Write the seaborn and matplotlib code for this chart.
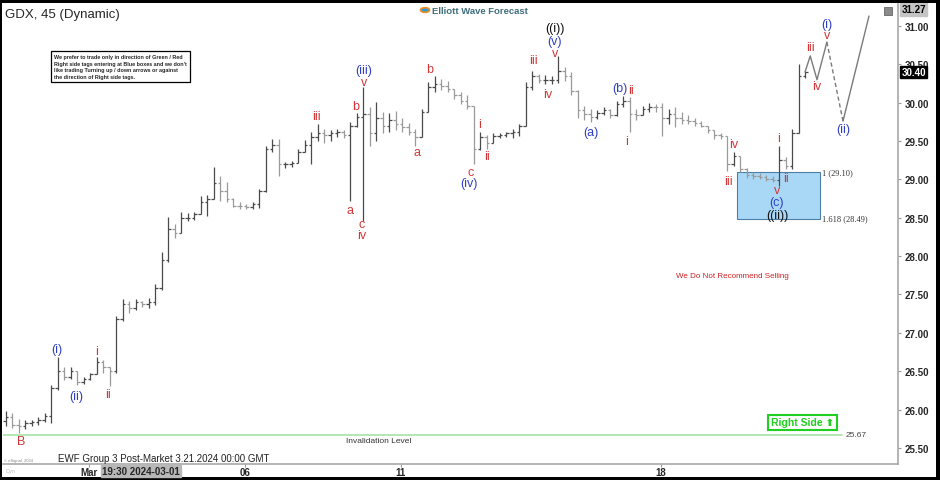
import matplotlib
matplotlib.use("Agg")
import matplotlib.pyplot as plt
from matplotlib.patches import Rectangle
import numpy as np
import seaborn as sns

# GDX 45-minute bars (8 bars per trading day, first bar late on 28 Feb)
highs = [25.98, 25.95, 25.88, 25.86, 25.86, 25.90, 25.95, 26.32, 26.68, 26.55,
         26.56, 26.50, 26.42, 26.48, 26.68, 26.64, 26.56, 27.22, 27.44, 27.42,
         27.44, 27.42, 27.46, 27.64, 28.05, 28.51, 28.42, 28.57, 28.56, 28.58,
         28.78, 28.80, 29.16, 29.05, 28.97, 28.76, 28.70, 28.68, 28.70, 28.88,
         29.44, 29.53, 29.53, 29.23, 29.24, 29.40, 29.52, 29.62, 29.72, 29.66,
         29.64, 29.66, 29.64, 29.75, 29.86, 30.20, 29.95, 30.01, 29.88, 29.86,
         29.89, 29.80, 29.74, 29.66, 29.92, 30.27, 30.35, 30.31, 30.28, 30.18,
         30.14, 30.10, 29.96, 29.62, 29.58, 29.60, 29.60, 29.62, 29.66, 29.72,
         30.27, 30.41, 30.38, 30.36, 30.35, 30.61, 30.46, 30.40, 30.16, 29.96,
         29.92, 29.90, 29.94, 29.92, 30.02, 30.09, 30.07, 29.92, 29.96, 30.00,
         29.98, 30.00, 29.92, 29.95, 29.88, 29.84, 29.80, 29.76, 29.70, 29.62,
         29.60, 29.57, 29.36, 29.30, 29.15, 29.10, 29.08, 29.06, 29.04, 29.44,
         29.29, 29.66, 30.50, 30.42]
lows = [25.78, 25.76, 25.70, 25.74, 25.78, 25.80, 25.84, 25.82, 26.26, 26.38,
        26.40, 26.32, 26.33, 26.38, 26.46, 26.48, 26.31, 26.48, 27.15, 27.26,
        27.30, 27.34, 27.32, 27.36, 27.56, 27.92, 28.24, 28.30, 28.46, 28.47,
        28.55, 28.52, 28.74, 28.72, 28.70, 28.64, 28.61, 28.62, 28.61, 28.63,
        28.84, 29.36, 29.04, 29.15, 29.16, 29.22, 29.36, 29.20, 29.50, 29.48,
        29.50, 29.55, 29.54, 28.72, 29.68, 28.46, 29.44, 29.50, 29.60, 29.62,
        29.64, 29.62, 29.58, 29.44, 29.55, 29.88, 30.14, 30.16, 30.14, 30.05,
        29.98, 29.92, 29.20, 29.38, 29.40, 29.47, 29.54, 29.55, 29.54, 29.56,
        29.70, 30.16, 30.26, 30.24, 30.24, 30.26, 30.28, 30.10, 29.80, 29.78,
        29.75, 29.79, 29.84, 29.80, 29.83, 29.95, 29.62, 29.78, 29.84, 29.88,
        29.88, 29.57, 29.72, 29.68, 29.72, 29.72, 29.70, 29.68, 29.60, 29.53,
        29.53, 29.11, 29.17, 29.10, 29.02, 29.00, 29.00, 28.98, 28.96, 28.91,
        29.14, 29.14, 29.60, 30.32]
closes = [25.90, 25.80, 25.78, 25.82, 25.84, 25.86, 25.92, 26.28, 26.50, 26.42,
          26.50, 26.36, 26.40, 26.46, 26.62, 26.55, 26.50, 27.18, 27.38, 27.32,
          27.40, 27.38, 27.40, 27.58, 27.95, 28.35, 28.30, 28.50, 28.50, 28.55,
          28.70, 28.74, 28.95, 28.85, 28.75, 28.66, 28.65, 28.64, 28.68, 28.85,
          29.40, 29.45, 29.20, 29.20, 29.22, 29.36, 29.45, 29.55, 29.60, 29.58,
          29.60, 29.62, 29.58, 29.70, 29.82, 29.85, 29.60, 29.80, 29.70, 29.78,
          29.72, 29.68, 29.62, 29.55, 29.88, 30.20, 30.25, 30.22, 30.18, 30.10,
          30.02, 29.96, 29.40, 29.55, 29.48, 29.57, 29.58, 29.60, 29.62, 29.70,
          30.20, 30.35, 30.30, 30.30, 30.30, 30.42, 30.35, 30.15, 29.90, 29.85,
          29.82, 29.86, 29.90, 29.84, 29.98, 30.02, 29.85, 29.84, 29.92, 29.95,
          29.94, 29.80, 29.85, 29.80, 29.78, 29.76, 29.74, 29.70, 29.64, 29.58,
          29.56, 29.20, 29.30, 29.14, 29.06, 29.05, 29.03, 29.00, 28.99, 29.25,
          29.18, 29.60, 30.35, 30.40]
first_open = 25.85
bars_per_day = 8
first_bar_day = -1.6   # in trading days relative to 1 Mar

# projected path (trading days, price)
proj_days = [13.77, 13.87, 14.0, 14.19]
proj_prices = [30.40, 30.61, 30.30, 30.79]
proj2_days = [14.19, 14.5]
proj2_prices = [30.79, 29.76]
proj3_days = [14.5, 15.0]
proj3_prices = [29.76, 31.13]

tick_days = [0, 3, 6, 11]
tick_labels = ["Mar", "06", "11", "18"]

box_top, box_bottom = 29.10, 28.49
invalidation = 25.67
last_price = 30.40

RED, BLUE, BLACK = "#d33636", "#2f3fc4", "#111111"
wave_labels = [
    ("B", -1.31, 25.59, RED), ("(i)", -0.615, 26.79, BLUE), ("(ii)", -0.25, 26.18, BLUE),
    ("i", 0.15, 26.76, RED), ("ii", 0.37, 26.20, RED), ("iii", 4.37, 29.83, RED),
    ("a", 5.02, 28.60, RED), ("b", 5.13, 29.96, RED), ("(iii)", 5.29, 30.43, BLUE),
    ("v", 5.29, 30.27, RED), ("c", 5.25, 28.42, RED), ("iv", 5.25, 28.27, RED),
    ("a", 6.31, 29.36, RED), ("b", 6.56, 30.44, RED), ("c", 7.33, 29.10, RED),
    ("(iv)", 7.31, 28.95, BLUE), ("i", 7.52, 29.72, RED), ("ii", 7.65, 29.30, RED),
    ("iii", 8.54, 30.56, RED), ("iv", 8.83, 30.12, RED), ("((i))", 8.96, 30.97, BLACK),
    ("(v)", 8.96, 30.80, BLUE), ("v", 8.96, 30.65, RED), ("(a)", 9.65, 29.62, BLUE),
    ("(b)", 10.21, 30.19, BLUE), ("ii", 10.42, 30.17, RED), ("i", 10.33, 29.50, RED),
    ("iv", 12.40, 29.46, RED), ("iii", 12.29, 28.98, RED), ("i", 13.27, 29.54, RED),
    ("ii", 13.40, 29.02, RED), ("v", 13.23, 28.86, RED), ("(c)", 13.23, 28.71, BLUE),
    ("((ii))", 13.23, 28.54, BLACK), ("iii", 13.87, 30.72, RED), ("iv", 14.0, 30.22, RED),
    ("(i)", 14.19, 31.03, BLUE), ("v", 14.19, 30.88, RED), ("(ii)", 14.5, 29.66, BLUE),
]

sns.set_style("white")
plt.rcParams["font.family"] = ["Liberation Sans", "DejaVu Sans"]

W, H = 940, 481
fig = plt.figure(figsize=(W / 100, H / 100), dpi=100)
ax = fig.add_axes([3 / W, (H - 465) / H, (898 - 3) / W, (465 - 5) / H])

n = len(closes)
x = first_bar_day + np.arange(n) / bars_per_day
opens = np.array([first_open] + closes[:-1])
closes_a = np.array(closes)
highs_a = np.maximum(np.array(highs), np.maximum(opens, closes_a))
lows_a = np.minimum(np.array(lows), np.minimum(opens, closes_a))
up = closes_a >= opens
cols = np.where(up, "#4a4a4a", "#9a9a9a")
w = 0.045
ax.vlines(x, lows_a, highs_a, colors=cols, lw=0.9)
ax.hlines(opens, x - w, x, colors=cols, lw=0.9)
ax.hlines(closes_a, x, x + w, colors=cols, lw=0.9)

# blue entry box
ax.add_patch(Rectangle((12.46, box_bottom), 1.6, box_top - box_bottom,
                       fc="#a9d8f7", ec="#4d7fa6", lw=0.8, zorder=0.5))
ax.text(14.1, box_top, "1 (29.10)", fontsize=6, family="Liberation Serif", va="center", color="#333")
ax.text(14.1, box_bottom, "1.618 (28.49)", fontsize=6, family="Liberation Serif", va="center", color="#333")

# projection
sns.lineplot(x=proj_days, y=proj_prices, ax=ax, color="#7a7a7a", lw=1, sort=False)
sns.lineplot(x=proj2_days, y=proj2_prices, ax=ax, color="#7a7a7a", lw=1, sort=False, linestyle=(0, (3, 2)))
sns.lineplot(x=proj3_days, y=proj3_prices, ax=ax, color="#7a7a7a", lw=1, sort=False)

for txt, d, p, c in wave_labels:
    ax.text(d, p, txt, color=c, fontsize=9, ha="center", va="center")

# invalidation line
xmin, xmax = (3 - 89) / 52, (898 - 89) / 52
ax.plot([xmin, 14.48], [invalidation, invalidation], color="#a6e3a6", lw=1.2)
ax.text(14.55, invalidation, "25.67", fontsize=6, va="center", color="#444")
ax.text(4.94, 25.60, "Invalidation Level", fontsize=6, va="center", color="#333")
ax.text(12.37, 27.75, "We Do Not Recommend Selling", fontsize=5.8, ha="center", va="center", color="#cc2222")
ax.text(13.72, 25.835, "Right Side \u2B06", fontsize=7.5, fontweight="bold", ha="center", va="center",
        color="#1fd01f", bbox=dict(fc="white", ec="#1fd01f", lw=1.5, pad=1.8))

ax.set_xlim(xmin, xmax)
ax.set_ylim(25.29, 31.287)
ax.yaxis.tick_right()
ax.set_yticks(np.arange(25.5, 31.01, 0.5))
ax.set_yticklabels([f"{v:.2f}" for v in np.arange(25.5, 31.01, 0.5)], fontsize=7, fontweight="bold")
ax.set_xticks(tick_days)
ax.set_xticklabels(tick_labels, fontsize=7, fontweight="bold")
ax.tick_params(axis="y", length=2.5, pad=2, color="#999", right=True, left=False)
ax.tick_params(axis="x", length=2, pad=0.5, color="#999", bottom=True)
for s in ["left", "top"]:
    ax.spines[s].set_visible(False)
for s in ["right", "bottom"]:
    ax.spines[s].set_color("#a8a8a8")
    ax.spines[s].set_linewidth(1.2)

# price tags
ax.text(1.004, last_price, "30.40", transform=ax.get_yaxis_transform(), fontsize=7, fontweight="bold",
        color="white", va="center", bbox=dict(fc="black", ec="black", pad=1), clip_on=False, zorder=5)
ax.text(1.004, 31.22, "31.27", transform=ax.get_yaxis_transform(), fontsize=7, fontweight="bold",
        color="black", va="center", bbox=dict(fc="#c4c4c4", ec="#c4c4c4", pad=1), clip_on=False)


def fx(px):
    return px / W


def fy(py):
    return 1 - py / H


fig.text(fx(5), fy(15), "GDX, 45 (Dynamic)", fontsize=9.5, va="center")
note = ("We prefer to trade only in direction of Green / Red\n"
        "Right side tags entering at Blue boxes and we don't\n"
        "like trading Turning up / down arrows or against\n"
        "the direction of Right side tags.")
fig.text(fx(54), fy(67.5), note, fontsize=3.9, fontweight="bold", va="center", linespacing=1.4,
         bbox=dict(fc="white", ec="black", lw=0.9, pad=2.5))
fig.text(fx(432), fy(11), "Elliott Wave Forecast", fontsize=6.8, fontweight="bold", va="center", color="#3f6f7d")
fig.add_artist(plt.Circle((fx(425), fy(11)), 4.5 / W, transform=fig.transFigure, fc="#2f9bd6", ec="#f08a24", lw=1.2))
fig.text(fx(58), fy(459), "EWF Group 3 Post-Market 3.21.2024 00:00 GMT", fontsize=7, va="center", color="#222")
fig.text(fx(4), fy(461), "\u00a9 eSignal, 2024", fontsize=3, va="center", color="#888")
fig.text(fx(5), fy(472), "Dyn", fontsize=4, va="center", color="#bbb")
fig.text(fx(102), fy(472), "19:30 2024-03-01", fontsize=7, fontweight="bold", va="center",
         bbox=dict(fc="#b8b8b8", ec="#b8b8b8", pad=0.8))
fig.add_artist(Rectangle((fx(884), fy(16)), 8 / W, 8 / H, transform=fig.transFigure, fc="#8a8a8a", ec="#555", lw=0.5))

# outer black frame
for r in [(0, fy(4), 1, 4 / H), (0, 0, 1, 3 / H), (0, 0, 2 / W, 1), (fx(936), 0, 4 / W, 1)]:
    fig.add_artist(Rectangle((r[0], r[1]), r[2], r[3], transform=fig.transFigure, fc="black", ec="none"))

fig.savefig("out.png", dpi=100)
